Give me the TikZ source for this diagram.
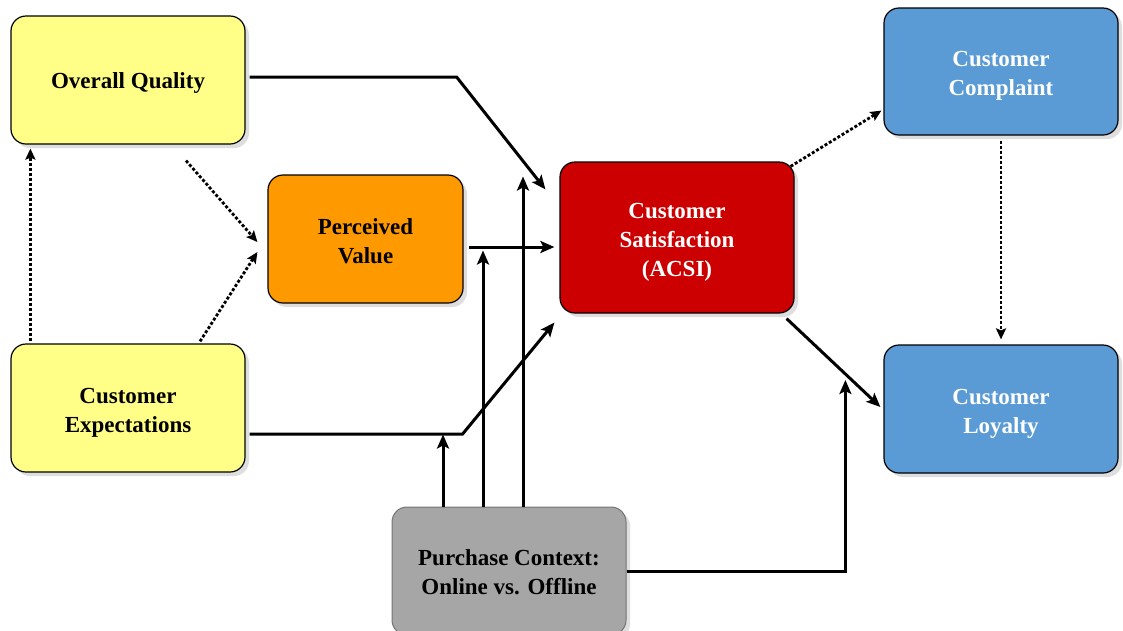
\documentclass[tikz,border=0pt]{standalone}
\usepackage{fontspec}
\setmainfont{Liberation Serif}
\usetikzlibrary{calc,shadows,arrows.meta}
\definecolor{yel}{HTML}{FFFF88}
\definecolor{org}{HTML}{FF9900}
\definecolor{red}{HTML}{CC0000}
\definecolor{blu}{HTML}{5B9BD5}
\definecolor{gry}{HTML}{A6A6A6}
\tikzset{
  box/.style={draw=black, line width=1.2pt, rounded corners=15pt,
    minimum width=234pt, minimum height=128pt,
    drop shadow={shadow xshift=4pt, shadow yshift=-4pt, fill=black!13, opacity=1}},
  txt/.style={align=center, font=\fontsize{23}{29}\selectfont\bfseries},
  arr/.style={line width=3pt, -{Stealth[length=14pt,width=12pt,inset=3pt]}},
  dotarr/.style={line width=2.8pt, dash pattern=on 3pt off 2pt, -{Stealth[length=11pt,width=10pt,inset=2pt]}}
}
\begin{document}
\begin{tikzpicture}[x=1pt,y=-1pt]
\useasboundingbox (0,0) rectangle (1123,630);
\begin{scope}
\clip (0,0) rectangle (1123,630);
\node[box, fill=yel] (oq) at (128,80) {};
\node[box, fill=yel] (ce) at (128,408) {};
\node[box, fill=org, minimum width=195pt] (pv) at (365.5,239) {};
\node[box, fill=red, minimum height=151pt] (cs) at (677,237.5) {};
\node[box, fill=blu, minimum height=127pt] (cc) at (1001,71.5) {};
\node[box, fill=blu] (cl) at (1001,409) {};
\node[box, fill=gry, draw=black!55, line width=1pt] (pc) at (509,571) {};
\end{scope}
\node[txt] (oqt) at ($(oq.center)+(0,3)$) {Overall Quality};
\node[txt] (cet) at ($(ce.center)+(0,5)$) {Customer\\Expectations};
\node[txt] (pvt) at ($(pv.center)+(0,2)$) {Perceived\\Value};
\node[txt, text=white] (cst) at ($(cs.center)+(0,5)$) {Customer\\Satisfaction\\(ACSI)};
\node[txt, text=white] (cct) at ($(cc.center)+(0,4)$) {Customer\\Complaint};
\node[txt, text=white] (clt) at ($(cl.center)+(0,5)$) {Customer\\Loyalty};
\node[txt] (pct) at ($(pc.center)+(0,1)$) {Purchase Context:\\ Online vs. Offline};
% solid connectors
\draw[arr] ($(oq.east)+(4,-3)$) -- ++(207,0) -- ($(cs.north west)+(-14,28)$);
\draw[arr] ($(pv.east)+(5,8)$) -- ($(cs.west)+(-5,9.5)$);
\draw[arr] ($(ce.east)+(4,26)$) -- ++(213,0) -- ($(cs.south west)+(-5,9)$);
\draw[arr] ($(cs.south east)+(-8,5)$) -- ($(cl.west)+(-3,-2)$);
\draw[arr] ($(pc.north)+(-66,0)$) -- ($(pc.north)+(-66,-72)$);
\draw[arr] ($(pc.north)+(-26,0)$) -- ($(pc.north)+(-26,-256)$);
\draw[arr] ($(pc.north)+(14,0)$) -- ($(pc.north)+(14,-330)$);
\draw[arr] (pc.east) -| ($(cl.west)+(-38,-29)$);
% dotted connectors
\draw[dotarr] ($(oq.south)+(58,16)$) -- ($(pv.west)+(-10,3)$);
\draw[dotarr] ($(ce.north)+(72,-2)$) -- ($(pv.west)+(-10,13)$);
\draw[dotarr] ($(ce.north west)+(20,-2)$) -- ($(oq.south west)+(20,4)$);
\draw[dotarr] ($(cs.north east)+(-4,5)$) -- ($(cc.south west)+(-2,-25)$);
\draw[dotarr] ($(cc.south)+(0,5)$) -- ($(cl.north)+(0,-5)$);
\end{tikzpicture}
\end{document}
